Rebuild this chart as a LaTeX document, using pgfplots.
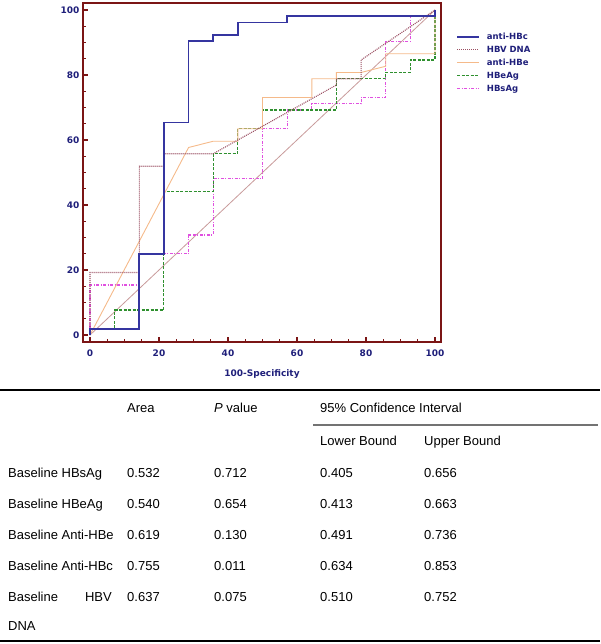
\documentclass[border=0pt]{standalone}
\usepackage{pgfplots}
\pgfplotsset{compat=1.18}
\usepackage{fontspec}
\setmainfont{Liberation Sans}
\newfontfamily\lblfam{DejaVu Sans}

\definecolor{framered}{HTML}{7B1515}
\definecolor{navy}{HTML}{1F1F7A}
\definecolor{cHBc}{HTML}{3535A0}
\definecolor{cDNA}{HTML}{9A4F62}
\definecolor{cHBe}{HTML}{F5BA8A}
\definecolor{cHBeAg}{HTML}{2F902F}
\definecolor{cHBsAg}{HTML}{E050E0}
\definecolor{cDiag}{HTML}{C89A9A}

\newcommand\lblfont{\lblfam\bfseries\fontsize{9}{10}\selectfont}
\newcommand\tabfont{\fontsize{13}{15}\selectfont}

\begin{document}
\begin{tikzpicture}
\path[use as bounding box] (0pt,0pt) rectangle (600pt,-644pt);

\begin{axis}[
  at={(83pt,-342pt)}, anchor=south west,
  scale only axis, width=358pt, height=339pt,
  xmin=-2.03, xmax=101.74, ymin=-2.15, ymax=102.15,
  xtick={0,20,...,100}, ytick={0,20,...,100},
  minor tick num=3,
  xtick pos=left, ytick pos=left, tick align=inside,
  axis line style={draw=framered, line width=1.8pt},
  major tick style={draw=framered, line width=1.4pt},
  minor tick style={draw=framered, line width=0.8pt},
  major tick length=5pt, minor tick length=3pt,
  tick label style={font=\lblfont, text=navy, /pgf/number format/assume math mode=true},
  xticklabel style={yshift=-4pt},
  xlabel={100-Specificity}, xlabel style={font=\lblfont, text=navy, yshift=-6pt},
  reverse legend,
  legend cell align=left,
  legend style={at={(1,1)}, anchor=north west, xshift=12pt, yshift=-25pt,
    draw=none, fill=none, font=\lblfam\bfseries\fontsize{8.5}{9}\selectfont, text=navy,
    nodes={inner sep=2pt, text height=7pt, text depth=2pt},
    /tikz/every odd column/.append style={column sep=5pt}},
  legend image code/.code={\draw[#1] (0pt,0pt) -- (22pt,0pt);},
]
% reference diagonal
\addplot[cDiag, line width=0.8pt, forget plot] coordinates {(0,0) (100,100)};

% HBsAg
\addplot[cHBsAg, line width=1.1pt, dash pattern=on 3pt off 1.5pt on 1pt off 1.5pt] coordinates {
(0,0) (0,15.38) (14.29,15.38) (14.29,25) (28.57,25) (28.57,30.77) (35.71,30.77)
(35.71,48.08) (50,48.08) (50,63.46) (57.14,63.46) (57.14,69.23) (64.29,69.23)
(64.29,71.15) (78.57,71.15) (78.57,73.08) (85.71,73.08) (85.71,90.38) (92.86,90.38)
(92.86,98.08) (100,98.08) (100,100)};
\addlegendentry{HBsAg}

% HBeAg
\addplot[cHBeAg, line width=1.1pt, dash pattern=on 3pt off 1.5pt] coordinates {
(0,0) (0,1.92) (7.14,1.92) (7.14,7.69) (21.43,7.69) (21.43,44.23) (35.71,44.23)
(35.71,55.77) (42.86,55.77) (42.86,63.46) (50,63.46) (50,69.23) (71.43,69.23)
(71.43,78.85) (85.71,78.85) (85.71,80.77) (92.86,80.77) (92.86,84.62) (100,84.62) (100,100)};
\addlegendentry{HBeAg}

% anti-HBe
\addplot[cHBe, line width=0.9pt] coordinates {
(0,0) (28.57,57.69) (35.71,59.62) (42.86,59.62) (42.86,63.46) (50,63.46) (50,73.08)
(64.29,73.08) (64.29,78.85) (71.43,78.85) (71.43,80.77) (78.57,80.77) (85.71,82.69)
(85.71,86.54) (100,86.54) (100,100)};
\addlegendentry{anti-HBe}

% HBV DNA
\addplot[cDNA, line width=1.1pt, dash pattern=on 1pt off 1pt] coordinates {
(0,0) (0,19.23) (14.29,19.23) (14.29,51.92) (21.43,51.92) (21.43,55.77) (35.71,55.77)
(71.43,76.92) (71.43,78.85) (78.57,78.85) (78.57,84.62) (100,100)};
\addlegendentry{HBV DNA}

% anti-HBc
\addplot[cHBc, line width=1.7pt] coordinates {
(0,0) (0,1.92) (14.29,1.92) (14.29,25) (21.43,25) (21.43,65.38) (28.57,65.38)
(28.57,90.38) (35.71,90.38) (35.71,92.31) (42.86,92.31) (42.86,96.15) (57.14,96.15)
(57.14,98.08) (100,98.08) (100,100)};
\addlegendentry{anti-HBc}
\end{axis}

% table
\draw[line width=1.8pt] (0pt,-390pt) -- (600pt,-390pt);
\draw[line width=1.2pt, black!55] (313pt,-425pt) -- (598pt,-425pt);
\draw[line width=1.8pt] (0pt,-641pt) -- (600pt,-641pt);

\begin{scope}[every node/.style={anchor=base west, inner sep=0pt, font=\tabfont}]
\node at (127pt,-412pt) {Area};
\node at (214pt,-412pt) {\textit{P} value};
\node at (320pt,-412pt) {95\% Confidence Interval};
\node at (320pt,-445pt) {Lower Bound};
\node at (424pt,-445pt) {Upper Bound};

\node at (8pt,-477pt) {Baseline HBsAg};
\node at (127pt,-477pt) {0.532};
\node at (214pt,-477pt) {0.712};
\node at (320pt,-477pt) {0.405};
\node at (424pt,-477pt) {0.656};

\node at (8pt,-508pt) {Baseline HBeAg};
\node at (127pt,-508pt) {0.540};
\node at (214pt,-508pt) {0.654};
\node at (320pt,-508pt) {0.413};
\node at (424pt,-508pt) {0.663};

\node at (8pt,-539pt) {Baseline Anti-HBe};
\node at (127pt,-539pt) {0.619};
\node at (214pt,-539pt) {0.130};
\node at (320pt,-539pt) {0.491};
\node at (424pt,-539pt) {0.736};

\node at (8pt,-570pt) {Baseline Anti-HBc};
\node at (127pt,-570pt) {0.755};
\node at (214pt,-570pt) {0.011};
\node at (320pt,-570pt) {0.634};
\node at (424pt,-570pt) {0.853};

\node at (8pt,-601pt) {Baseline};
\node[anchor=base east] at (112pt,-601pt) {HBV};
\node at (127pt,-601pt) {0.637};
\node at (214pt,-601pt) {0.075};
\node at (320pt,-601pt) {0.510};
\node at (424pt,-601pt) {0.752};

\node at (8pt,-630pt) {DNA};
\end{scope}
\end{tikzpicture}
\end{document}
